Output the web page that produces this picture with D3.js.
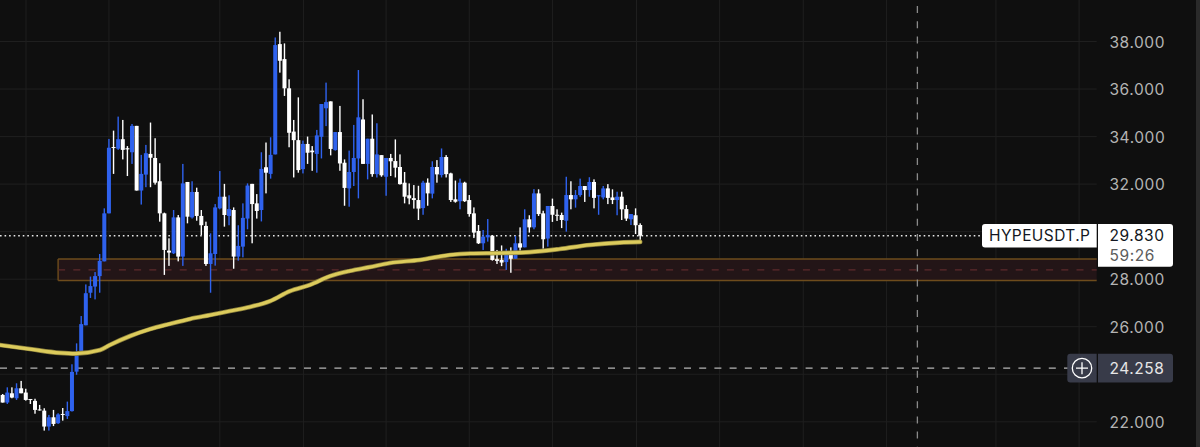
<!DOCTYPE html>
<html><head><meta charset="utf-8">
<style>html,body{margin:0;padding:0;background:#0f0f0f;overflow:hidden}svg{display:block}text{font-family:Inter,"Noto Sans",sans-serif}</style>
<script src="https://cdn.jsdelivr.net/npm/d3@7"></script>
</head><body><svg id="c" width="1200" height="447"></svg>
<script>
const opens=[23.13,22.81,23.20,22.99,23.41,23.23,22.96,22.88,22.52,22.47,
21.80,22.19,21.94,22.33,22.24,22.45,24.11,24.91,26.06,27.43,
27.69,28.13,28.75,30.77,33.56,33.49,33.89,33.51,33.34,34.45,
31.73,32.40,33.27,33.10,32.12,30.77,29.20,29.09,30.60,28.95,
32.09,30.60,31.67,30.66,30.24,28.64,29.06,30.98,31.47,30.66,
30.91,28.95,29.37,30.55,32.01,31.19,30.91,32.71,32.43,33.25,
37.89,37.26,36.03,34.21,33.85,32.63,33.69,33.41,33.27,33.99,
35.19,35.48,33.43,34.19,32.90,31.82,32.51,33.08,34.72,32.85,
33.91,32.42,33.22,32.31,33.10,32.97,32.72,32.06,31.53,31.41,
31.33,30.99,32.06,31.60,32.72,32.38,33.14,32.45,31.36,31.28,
32.06,31.33,30.77,30.03,29.51,29.76,29.83,28.84,28.81,28.72,
29.12,28.86,29.51,29.34,30.52,30.18,31.61,30.77,29.71,31.08,
30.71,30.70,30.46,31.54,31.36,31.54,31.92,31.75,32.09,31.50,
31.44,31.82,31.44,31.33,31.47,30.95,30.52,30.69,30.28];
const closes=[22.81,23.23,23.02,23.41,23.20,22.92,22.93,22.50,22.48,21.80,
22.19,21.91,22.31,22.30,22.45,24.10,24.94,26.11,27.41,27.71,
28.13,28.77,30.77,33.53,33.52,33.89,33.44,33.46,34.45,31.73,
32.43,33.30,33.11,32.06,30.77,29.23,29.12,30.60,28.95,32.03,
30.63,31.67,30.66,30.27,28.64,29.09,31.02,31.47,30.70,30.95,
28.95,29.40,30.58,31.94,31.16,30.87,32.64,32.48,33.23,37.85,
37.19,36.03,34.16,33.85,32.59,33.69,33.32,33.34,34.05,35.37,
35.45,33.48,34.19,32.87,31.84,32.51,33.10,34.81,32.85,33.91,
32.42,33.25,32.37,33.10,32.96,32.69,32.00,31.47,31.40,31.33,
30.97,32.06,31.61,32.72,32.41,33.14,32.42,31.33,31.26,32.06,
31.28,30.74,29.96,29.51,29.79,29.86,28.81,28.77,28.70,29.12,
28.86,29.51,29.33,30.52,30.18,31.61,30.74,29.68,31.08,30.71,
30.69,30.49,31.54,31.36,31.54,31.92,31.75,32.09,31.42,31.53,
31.82,31.42,31.33,31.47,30.94,30.55,30.74,30.27,29.83];
const highs=[23.17,23.45,23.45,23.62,23.72,23.39,22.96,22.97,22.71,22.57,
22.29,22.50,22.36,22.58,22.85,24.42,25.30,26.45,27.78,28.11,
28.30,29.06,30.98,33.90,34.25,34.84,34.70,33.60,34.53,34.45,
33.23,33.65,34.59,33.93,32.88,30.80,29.72,30.91,30.70,32.85,
32.09,32.12,31.85,30.91,30.42,29.93,31.16,32.55,32.01,31.53,
31.02,30.27,31.19,32.03,32.01,31.58,33.34,33.75,33.97,38.17,
38.41,37.92,36.41,34.70,35.65,33.83,34.00,33.60,34.28,35.37,
36.27,35.48,34.19,35.29,33.04,33.41,34.49,36.80,35.57,33.91,
34.93,34.56,33.22,33.10,33.27,33.88,33.25,32.51,32.03,31.96,
31.93,32.14,32.24,32.96,33.01,33.50,33.22,32.48,32.15,32.23,
32.10,31.54,31.02,30.28,30.07,30.53,29.86,29.23,29.42,29.28,
29.34,29.82,30.18,30.94,30.69,31.79,31.78,30.88,31.08,31.39,
30.94,30.80,32.31,32.12,31.75,32.23,31.92,32.29,32.20,31.53,
31.92,32.00,31.78,31.68,31.68,31.12,30.74,30.98,30.35];
const lows=[22.81,22.75,22.99,22.92,23.20,22.89,22.75,22.34,22.47,21.63,
21.63,21.82,21.91,22.05,22.12,22.43,23.98,24.88,26.06,27.21,
27.15,27.43,28.75,30.77,32.43,33.44,33.04,32.34,32.85,31.73,
31.14,31.87,31.87,31.98,30.42,28.18,28.56,29.06,28.75,28.56,
30.35,30.55,30.46,29.86,28.56,27.43,28.57,30.94,30.21,30.27,
28.44,28.78,28.92,30.10,29.51,30.55,30.43,31.61,32.23,33.25,
36.69,35.71,33.55,32.28,32.48,32.45,32.85,32.56,32.48,33.08,
34.44,33.21,33.41,32.56,31.09,31.05,31.92,31.40,32.85,32.20,
32.31,32.28,32.31,31.51,32.34,32.28,31.98,31.19,31.15,30.97,
30.49,30.71,31.09,31.40,32.06,32.28,32.28,31.25,31.22,30.94,
31.25,30.63,29.73,29.48,29.23,29.58,28.78,28.64,28.55,28.39,
28.27,28.86,29.19,29.34,29.96,30.10,30.66,29.28,29.37,30.41,
30.45,30.15,30.00,30.94,31.01,31.47,31.25,31.47,30.98,30.71,
31.36,31.16,31.16,30.69,30.49,30.45,30.28,29.90,29.58];
const maIndex=[-0.6,5.9,12.4,15.7,21.1,23.2,27.6,31.9,36.2,40.6,44.9,49.2,53.5,57.9,62.2,66.5,70.9,75.2,79.5,83.8,90.3,96.8,101.2,107.7,114.1,120.6,127.1,133.6,138];
const maValue=[25.23,25.06,24.90,24.87,25.02,25.23,25.61,25.90,26.12,26.33,26.49,26.66,26.83,27.08,27.50,27.76,28.13,28.35,28.51,28.68,28.81,29.02,29.08,29.10,29.14,29.27,29.44,29.54,29.57];
const tickValues=[40,38,36,34,32,28,26,22];
const gridPrices=[38,36,34,32,30,28,26,24,22];
const gridIndex=[5.05,23,47,65.1,83,101,119,137.2,155.2,173.3,191.3,215,233];
const zoneTop=28.85, zoneBottom=27.945, zoneMid=28.39, zoneStartIndex=12;
const lastPrice=29.83, crossPrice=24.258, crossIndex=198;
const symbol="HYPEUSDT.P", countdown="59:26";

const svg=d3.select("#c");
const x=d3.scaleLinear().domain([0,138]).range([2.67,640.2]);
const y=d3.scaleLinear().domain([38,22]).range([41.5,421.8]);
const plotR=1096.7, axisL=1098, axisR=1173;
const BG="#0f0f0f",GRID="#1f1f1f",BLUE="#2f62ee",WHITE="#ffffff";
svg.append("rect").attr("width",1200).attr("height",447).attr("fill",BG);
svg.append("rect").attr("x",1196).attr("width",4).attr("height",447).attr("fill","#2a2a2a");

// grid
svg.append("g").selectAll("line").data(gridPrices).join("line")
 .attr("x1",0).attr("x2",plotR).attr("y1",d=>y(d)).attr("y2",d=>y(d)).attr("stroke",GRID).attr("stroke-width",1);
svg.append("g").selectAll("line").data(gridIndex).join("line")
 .attr("x1",d=>x(d)).attr("x2",d=>x(d)).attr("y1",0).attr("y2",447).attr("stroke",GRID).attr("stroke-width",1);

// zone
const zx=x(zoneStartIndex);
svg.append("rect").attr("x",zx).attr("y",y(zoneTop)).attr("width",plotR-zx).attr("height",y(zoneBottom)-y(zoneTop)).attr("fill","#231517");
svg.append("g").selectAll("line").data([zoneTop,zoneBottom]).join("line")
 .attr("x1",zx).attr("x2",plotR).attr("y1",d=>y(d)).attr("y2",d=>y(d)).attr("stroke","#6e4c1c").attr("stroke-width",1.4);
svg.append("line").attr("x1",zx).attr("x2",zx).attr("y1",y(zoneTop)).attr("y2",y(zoneBottom)).attr("stroke","#6e4c1c").attr("stroke-width",1.4);
svg.append("line").attr("x1",zx).attr("x2",plotR).attr("y1",y(zoneMid)).attr("y2",y(zoneMid)).attr("stroke","#5e2a2c").attr("stroke-width",1.2).attr("stroke-dasharray","7 8.2");

// crosshair
svg.append("line").attr("x1",x(crossIndex)).attr("x2",x(crossIndex)).attr("y1",6).attr("y2",447).attr("stroke","#8a8a8a").attr("stroke-width",1.3).attr("stroke-dasharray","7 8.2");
svg.append("line").attr("x1",0).attr("x2",1068).attr("y1",y(crossPrice)).attr("y2",y(crossPrice)).attr("stroke","#b5b5b5").attr("stroke-width",1.3).attr("stroke-dasharray","7 8.2");

// last price line
svg.append("line").attr("x1",0).attr("x2",983).attr("y1",y(lastPrice)).attr("y2",y(lastPrice)).attr("stroke","#e8e8e8").attr("stroke-width",1.5).attr("stroke-dasharray","1.6 2.95");

// candles
const candles=opens.map((o,i)=>({i,o,c:closes[i],h:highs[i],l:lows[i]}));
const col=d=>d.c>=d.o?BLUE:WHITE;
const g=svg.append("g");
g.selectAll(".w").data(candles).join("rect").attr("class","w")
 .attr("x",d=>x(d.i)-.7).attr("width",1.4).attr("y",d=>y(d.h)).attr("height",d=>y(d.l)-y(d.h)).attr("fill",col);
g.selectAll(".b").data(candles).join("rect").attr("class","b")
 .attr("x",d=>x(d.i)-2).attr("width",4).attr("y",d=>y(Math.max(d.o,d.c))).attr("height",d=>Math.max(1,Math.abs(y(d.o)-y(d.c)))).attr("fill",col);

// moving average
const maPts=maIndex.map((m,i)=>[x(m),y(maValue[i])]);
const ma=d3.line().curve(d3.curveMonotoneX);
svg.append("path").attr("d",ma(maPts)).attr("fill","none").attr("stroke","#8a7f3c").attr("stroke-width",4.6).attr("stroke-linecap","round");
svg.append("path").attr("d",ma(maPts)).attr("fill","none").attr("stroke","#dccb5c").attr("stroke-width",3.2).attr("stroke-linecap","round");

// axis
const axis=d3.axisRight(y).tickValues(tickValues).tickFormat(d3.format(".3f")).tickSize(0).tickPadding(0);
const ag=svg.append("g").attr("transform","translate(1109.5,0)").call(axis);
ag.select(".domain").remove();
ag.selectAll("text").attr("fill","#b4b4b4").style("font-size","15.5px").style("letter-spacing","0.55px").attr("dy","0.36em");

// labels
const roundRect=(x0,y0,x1,y1,tl,tr,br,bl)=>`M${x0+tl},${y0}H${x1-tr}Q${x1},${y0} ${x1},${y0+tr}V${y1-br}Q${x1},${y1} ${x1-br},${y1}H${x0+bl}Q${x0},${y1} ${x0},${y1-bl}V${y0+tl}Q${x0},${y0} ${x0+tl},${y0}Z`;
const ly=y(lastPrice);
svg.append("path").attr("d",roundRect(982,ly-11.8,plotR,ly+11.8,3,0,0,3)).attr("fill","#fff");
svg.append("path").attr("d",roundRect(axisL,ly-11.8,axisR,ly+31,0,3,3,0)).attr("fill","#fff");
svg.append("text").attr("x",989).attr("y",ly+5.7).attr("fill","#131722").style("font-size","15.5px").style("letter-spacing","0.4px").text(symbol);
svg.append("text").attr("x",1109.5).attr("y",ly+5.7).attr("fill","#131722").style("font-size","15.5px").style("letter-spacing","0.55px").text(d3.format(".3f")(lastPrice));
svg.append("text").attr("x",1109.5).attr("y",ly+25.5).attr("fill","#5c5c5c").style("font-size","15.5px").style("letter-spacing","0.55px").text(countdown);

const cy=y(crossPrice);
svg.append("path").attr("d",roundRect(1067.3,cy-14.3,plotR,cy+14.3,3,0,0,3)).attr("fill","#383b49");
svg.append("path").attr("d",roundRect(axisL,cy-14.3,axisR,cy+14.3,0,3,3,0)).attr("fill","#383b49");
svg.append("text").attr("x",1109.5).attr("y",cy+5.7).attr("fill","#e6e6e6").style("font-size","15.5px").style("letter-spacing","0.55px").text(d3.format(".3f")(crossPrice));
svg.append("circle").attr("cx",1082).attr("cy",cy).attr("r",9.7).attr("fill","none").attr("stroke","#fff").attr("stroke-width",1.3);
svg.append("path").attr("d",`M1076,${cy}H1088M1082,${cy-6}V${cy+6}`).attr("stroke","#fff").attr("stroke-width",1.3);
</script></body></html>
